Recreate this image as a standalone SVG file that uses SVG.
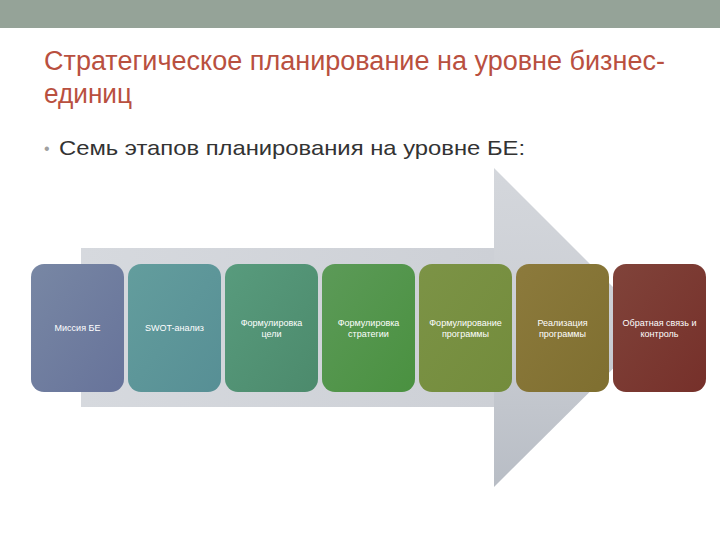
<svg xmlns="http://www.w3.org/2000/svg" width="720" height="540" viewBox="0 0 720 540">
<defs>
<style>
.t{font-family:"Liberation Sans",Arial,sans-serif;}
.lbl{font-family:"Liberation Sans",Arial,sans-serif;font-size:9px;fill:#ffffff;text-anchor:middle;}
</style>
<linearGradient id="shaft" x1="0" y1="0" x2="1" y2="0">
<stop offset="0" stop-color="#d6d9de"/><stop offset="1" stop-color="#cdd0d6"/>
</linearGradient>
<linearGradient id="head" x1="0" y1="0" x2="0" y2="1">
<stop offset="0" stop-color="#d4d7dc"/><stop offset="0.5" stop-color="#cbced4"/><stop offset="1" stop-color="#b8bdc5"/>
</linearGradient>
<linearGradient id="g1" x1="0" y1="0" x2="1" y2="1"><stop offset="0" stop-color="#7887a4"/><stop offset="1" stop-color="#67739a"/></linearGradient>
<linearGradient id="g2" x1="0" y1="0" x2="1" y2="1"><stop offset="0" stop-color="#639d9d"/><stop offset="1" stop-color="#578f95"/></linearGradient>
<linearGradient id="g3" x1="0" y1="0" x2="1" y2="1"><stop offset="0" stop-color="#589b7d"/><stop offset="1" stop-color="#4c8a6c"/></linearGradient>
<linearGradient id="g4" x1="0" y1="0" x2="1" y2="1"><stop offset="0" stop-color="#5c9a58"/><stop offset="1" stop-color="#4a9140"/></linearGradient>
<linearGradient id="g5" x1="0" y1="0" x2="1" y2="1"><stop offset="0" stop-color="#7c9346"/><stop offset="1" stop-color="#738c3c"/></linearGradient>
<linearGradient id="g6" x1="0" y1="0" x2="1" y2="1"><stop offset="0" stop-color="#8c7a3c"/><stop offset="1" stop-color="#7f6f30"/></linearGradient>
<linearGradient id="g7" x1="0" y1="0" x2="1" y2="1"><stop offset="0" stop-color="#80433a"/><stop offset="1" stop-color="#76302a"/></linearGradient>
</defs>
<rect x="0" y="0" width="720" height="540" fill="#ffffff"/>
<rect x="0" y="0" width="720" height="28" fill="#95a398"/>
<text class="t" x="44" y="70" font-size="27" fill="#b9503f" textLength="621" lengthAdjust="spacingAndGlyphs">Стратегическое планирование на уровне бизнес-</text>
<text class="t" x="44" y="103" font-size="27" fill="#b9503f" textLength="88" lengthAdjust="spacingAndGlyphs">единиц</text>
<text class="t" x="44" y="154" font-size="16" fill="#a0a0a0">•</text>
<text class="t" x="59" y="155" font-size="21" fill="#333333" textLength="466" lengthAdjust="spacingAndGlyphs">Семь этапов планирования на уровне БЕ:</text>
<g id="arrow">
<rect x="81" y="248" width="414" height="159" fill="url(#shaft)"/>
<polygon points="494,168 654,328 494,487" fill="url(#head)"/>
</g>
<g id="connectors"></g>
<g id="n1"><rect x="31" y="264" width="93" height="128" rx="13" fill="url(#g1)"/><text class="lbl" x="77.5" y="331">Миссия БЕ</text></g>
<g id="n2"><rect x="128" y="264" width="93" height="128" rx="13" fill="url(#g2)"/><text class="lbl" x="174.5" y="331">SWOT-анализ</text></g>
<g id="n3"><rect x="225" y="264" width="93" height="128" rx="13" fill="url(#g3)"/><text class="lbl" x="271.5" y="326">Формулировка</text><text class="lbl" x="271.5" y="337">цели</text></g>
<g id="n4"><rect x="322" y="264" width="93" height="128" rx="13" fill="url(#g4)"/><text class="lbl" x="368.5" y="326">Формулировка</text><text class="lbl" x="368.5" y="337">стратегии</text></g>
<g id="n5"><rect x="419" y="264" width="93" height="128" rx="13" fill="url(#g5)"/><text class="lbl" x="465.5" y="326">Формулирование</text><text class="lbl" x="465.5" y="337">программы</text></g>
<g id="n6"><rect x="516" y="264" width="93" height="128" rx="13" fill="url(#g6)"/><text class="lbl" x="562.5" y="326">Реализация</text><text class="lbl" x="562.5" y="337">программы</text></g>
<g id="n7"><rect x="613" y="264" width="93" height="128" rx="13" fill="url(#g7)"/><text class="lbl" x="659.5" y="326">Обратная связь и</text><text class="lbl" x="659.5" y="337">контроль</text></g>
</svg>
